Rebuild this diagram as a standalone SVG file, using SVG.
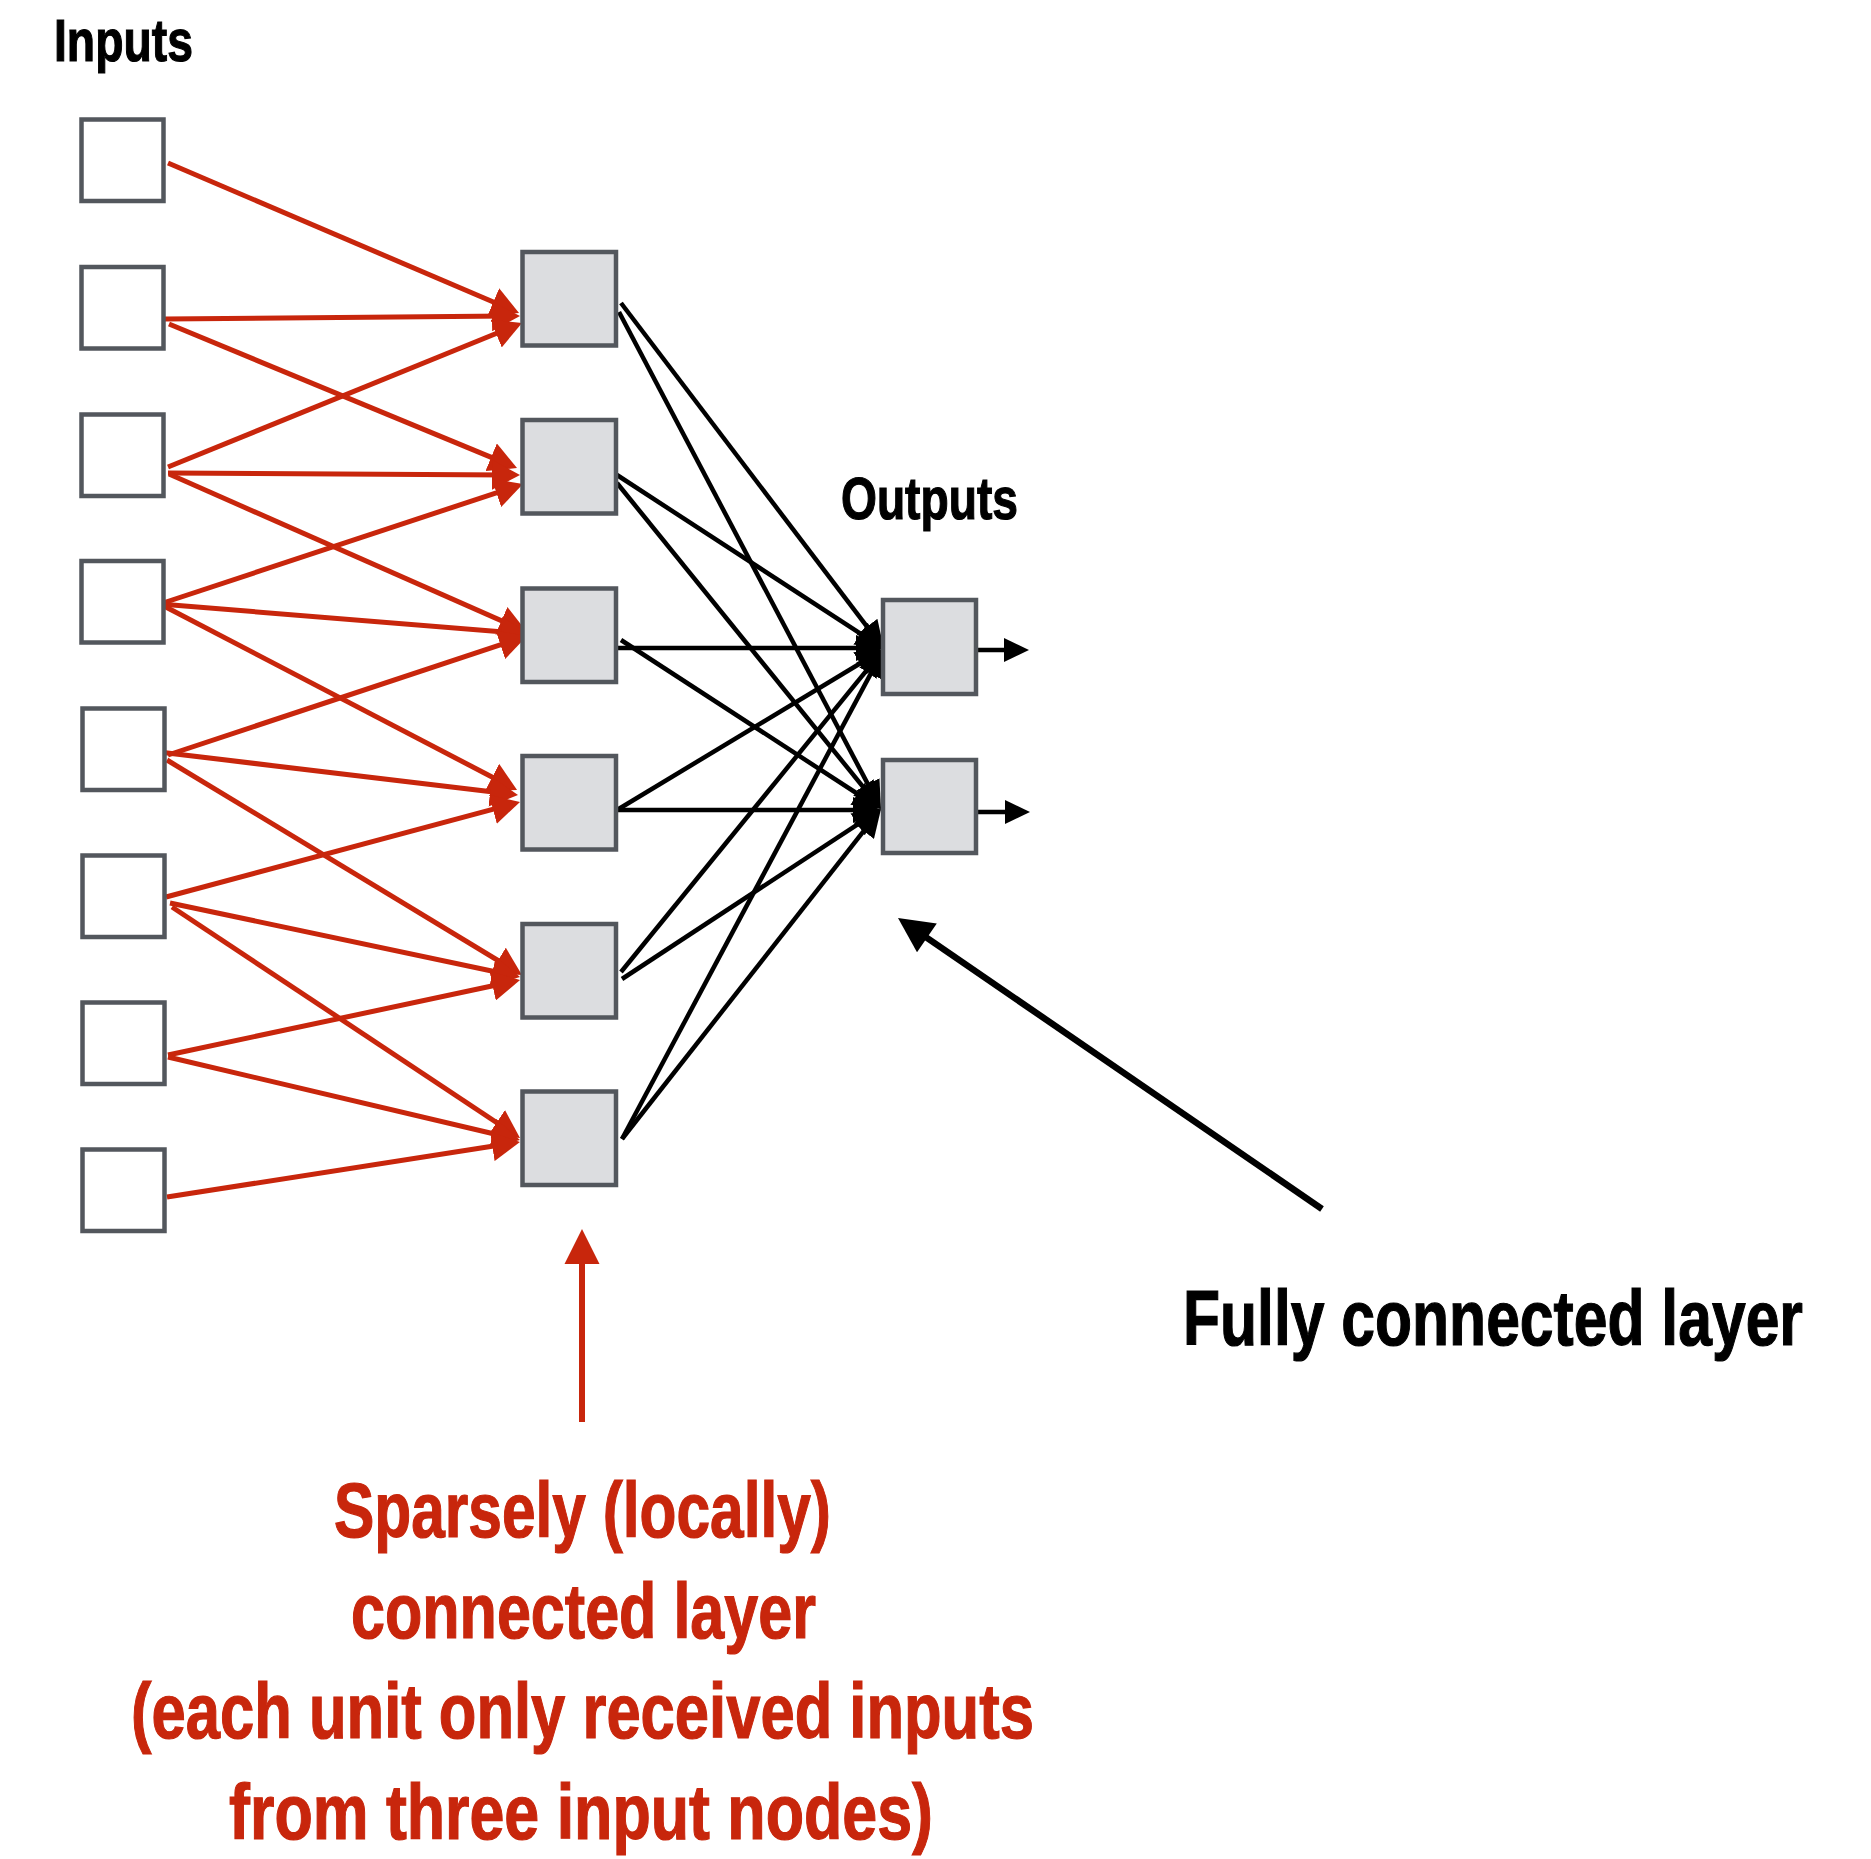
<svg xmlns="http://www.w3.org/2000/svg" width="1871" height="1859" viewBox="0 0 1871 1859">
  <style>
    .in { fill: #ffffff; stroke: #53575d; stroke-width: 4.5; }
    .unit { fill: #dcdde0; stroke: #53575d; stroke-width: 4.5; }
    .sparse { stroke: #c8260c; stroke-width: 5; fill: none; marker-end: url(#redHead); }
    .dense { stroke: #000000; stroke-width: 4.5; fill: none; marker-end: url(#blackHead); }
    .stub { stroke: #000000; stroke-width: 4.5; fill: none; marker-end: url(#stubHead); }
    .lbl { font-family: "Liberation Sans", Arial, sans-serif; font-weight: bold; stroke-width: 1.2; }
    .red { fill: #c8260c; stroke: #c8260c; }
    .blk { fill: #000000; stroke: #000000; }
  </style>
  <defs>
    <marker id="redHead" markerUnits="userSpaceOnUse" viewBox="0 -15 28 30" markerWidth="28" markerHeight="30" refX="16" refY="0" orient="auto">
      <path d="M0,-15 L28,0 L0,15 Z" fill="#c8260c"/>
    </marker>
    <marker id="blackHead" markerUnits="userSpaceOnUse" viewBox="0 -13 28 26" markerWidth="28" markerHeight="26" refX="16" refY="0" orient="auto">
      <path d="M0,-13 L28,0 L0,13 Z" fill="#000000"/>
    </marker>
    <marker id="stubHead" markerUnits="userSpaceOnUse" viewBox="0 -12 25 24" markerWidth="25" markerHeight="24" refX="13" refY="0" orient="auto">
      <path d="M0,-12 L25,0 L0,12 Z" fill="#000000"/>
    </marker>
  </defs>

  <rect width="1871" height="1859" fill="#ffffff"/>

  <!-- section titles (bold face squeezed horizontally to a condensed look) -->
  <text class="lbl blk" transform="translate(54 61) scale(0.772 1)" x="0" y="0" font-size="60" textLength="180" lengthAdjust="spacingAndGlyphs">Inputs</text>
  <text class="lbl blk" transform="translate(841 519) scale(0.783 1)" x="0" y="0" font-size="59" textLength="226" lengthAdjust="spacingAndGlyphs">Outputs</text>

  <!-- connectors -->
  <g id="connectors">
    <!-- input -> locally connected layer (each unit sees three inputs) -->
    <line class="sparse" x1="168" y1="163" x2="508" y2="308.3"/>
    <line class="sparse" x1="165" y1="319" x2="508" y2="316.1"/>
    <line class="sparse" x1="168" y1="467" x2="510.9" y2="327.5"/>

    <line class="sparse" x1="169" y1="324" x2="505.9" y2="463.4"/>
    <line class="sparse" x1="168" y1="473" x2="508" y2="474.9"/>
    <line class="sparse" x1="160" y1="604" x2="511.6" y2="487.8"/>

    <line class="sparse" x1="169" y1="474" x2="516" y2="627.2"/>
    <line class="sparse" x1="160" y1="604" x2="517" y2="633"/>
    <line class="sparse" x1="168" y1="755" x2="515.6" y2="639.8"/>

    <line class="sparse" x1="160" y1="604" x2="506.4" y2="784.5"/>
    <line class="sparse" x1="159" y1="752" x2="506.1" y2="793.6"/>
    <line class="sparse" x1="166" y1="897" x2="508.4" y2="805.1"/>

    <line class="sparse" x1="167" y1="760" x2="511.7" y2="968.8"/>
    <line class="sparse" x1="170" y1="903" x2="508.3" y2="974.5"/>
    <line class="sparse" x1="168" y1="1055" x2="508.3" y2="982.5"/>

    <line class="sparse" x1="172" y1="907" x2="510" y2="1131.4"/>
    <line class="sparse" x1="168" y1="1057" x2="508.3" y2="1137.2"/>
    <line class="sparse" x1="167" y1="1197" x2="508.1" y2="1143.8"/>

    <!-- locally connected layer -> fully connected outputs -->
    <line class="dense" x1="621" y1="303" x2="876.7" y2="639.4"/>
    <line class="dense" x1="619" y1="312" x2="875.4" y2="798.4"/>
    <line class="dense" x1="617" y1="475" x2="873.9" y2="642.4"/>
    <line class="dense" x1="617" y1="483" x2="873.4" y2="799.7"/>
    <line class="dense" x1="618" y1="648" x2="872" y2="648"/>
    <line class="dense" x1="621" y1="640" x2="870.9" y2="802.5"/>
    <line class="dense" x1="617" y1="810" x2="873.7" y2="655.2"/>
    <line class="dense" x1="617" y1="810" x2="869" y2="810"/>
    <line class="dense" x1="621" y1="972" x2="876.4" y2="658.3"/>
    <line class="dense" x1="622" y1="979" x2="871" y2="815.6"/>
    <line class="dense" x1="622" y1="1139" x2="878.3" y2="659.6"/>
    <line class="dense" x1="622" y1="1139" x2="873.6" y2="818.4"/>

    <!-- output stubs -->
    <line class="stub" x1="978" y1="650" x2="1017" y2="650"/>
    <line class="stub" x1="978" y1="812" x2="1018" y2="812"/>
  </g>

  <!-- input nodes -->
  <g id="input-1"><rect class="in" x="81.5" y="119.5" width="82" height="81.5"/></g>
  <g id="input-2"><rect class="in" x="81.5" y="267" width="82" height="81.5"/></g>
  <g id="input-3"><rect class="in" x="81.5" y="414.5" width="82" height="81.5"/></g>
  <g id="input-4"><rect class="in" x="81.5" y="561" width="82" height="81.5"/></g>
  <g id="input-5"><rect class="in" x="82.5" y="708.5" width="82" height="81.5"/></g>
  <g id="input-6"><rect class="in" x="82.5" y="855.5" width="82" height="81.5"/></g>
  <g id="input-7"><rect class="in" x="82.5" y="1002.5" width="82" height="81.5"/></g>
  <g id="input-8"><rect class="in" x="82.5" y="1149.5" width="82" height="81.5"/></g>

  <!-- locally connected units -->
  <g id="hidden-1"><rect class="unit" x="522.5" y="252" width="93.5" height="93.5"/></g>
  <g id="hidden-2"><rect class="unit" x="522.5" y="420" width="93.5" height="93.5"/></g>
  <g id="hidden-3"><rect class="unit" x="522.5" y="588.5" width="93.5" height="93.5"/></g>
  <g id="hidden-4"><rect class="unit" x="522.5" y="756" width="93.5" height="93.5"/></g>
  <g id="hidden-5"><rect class="unit" x="522.5" y="924" width="93.5" height="93.5"/></g>
  <g id="hidden-6"><rect class="unit" x="522.5" y="1091.5" width="93.5" height="93.5"/></g>

  <!-- output units -->
  <g id="output-1"><rect class="unit" x="883" y="600" width="93" height="94"/></g>
  <g id="output-2"><rect class="unit" x="883" y="760" width="93" height="93"/></g>

  <!-- callout: fully connected layer -->
  <g id="callout-fc">
    <line x1="1322" y1="1209" x2="918.6" y2="932.1" stroke="#000000" stroke-width="6.5"/>
    <polygon points="898,918 936.8,923.4 917,952.2" fill="#000000"/>
    <text class="lbl blk" transform="translate(1183 1345) scale(0.7773 1)" x="0" y="0" font-size="78" textLength="797.6" lengthAdjust="spacingAndGlyphs">Fully connected layer</text>
  </g>

  <!-- callout: sparsely connected layer -->
  <g id="callout-sparse">
    <line x1="582" y1="1422" x2="582" y2="1255" stroke="#c8260c" stroke-width="6"/>
    <polygon points="582,1229 599.5,1264 564.5,1264" fill="#c8260c"/>
    <text class="lbl red" transform="translate(582.5 1537) scale(0.7746 1)" x="0" y="0" font-size="78" text-anchor="middle" textLength="641.6" lengthAdjust="spacingAndGlyphs">Sparsely (locally)</text>
    <text class="lbl red" transform="translate(583.5 1638) scale(0.783 1)" x="0" y="0" font-size="78" text-anchor="middle" textLength="593.9" lengthAdjust="spacingAndGlyphs">connected layer</text>
    <text class="lbl red" transform="translate(582.5 1738) scale(0.789 1)" x="0" y="0" font-size="78" text-anchor="middle" textLength="1144.3" lengthAdjust="spacingAndGlyphs">(each unit only received inputs</text>
    <text class="lbl red" transform="translate(581 1839) scale(0.804 1)" x="0" y="0" font-size="78" text-anchor="middle" textLength="875.4" lengthAdjust="spacingAndGlyphs">from three input nodes)</text>
  </g>
</svg>
